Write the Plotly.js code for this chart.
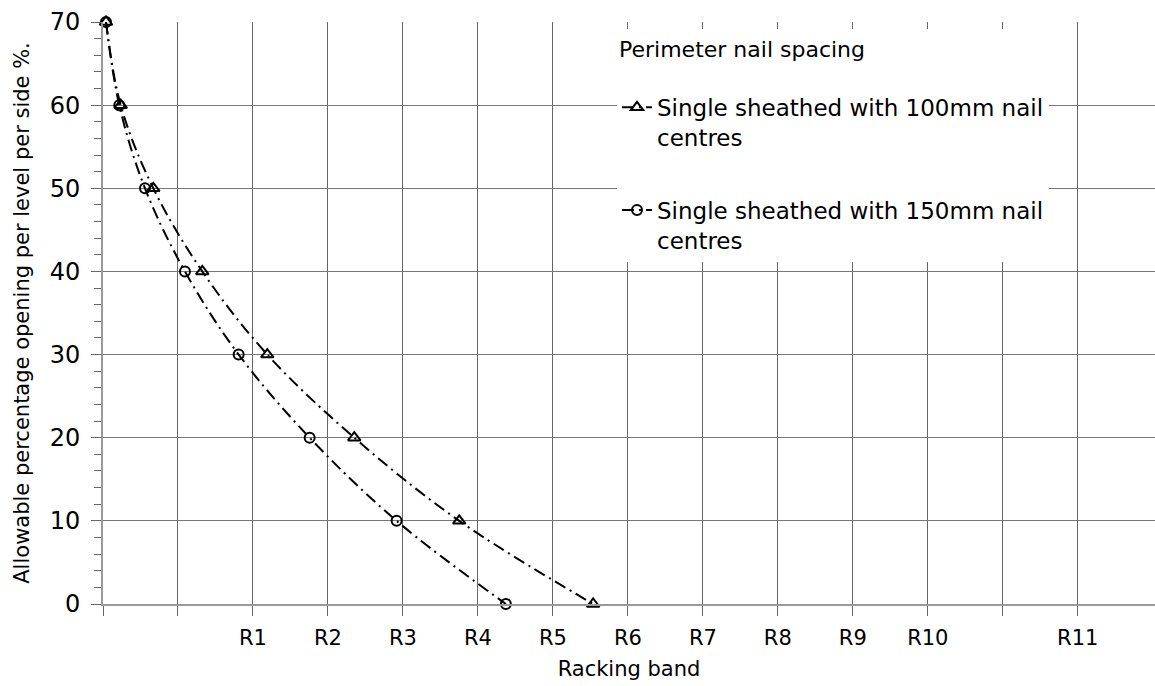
<!DOCTYPE html>
<html>
<head>
<meta charset="utf-8">
<script src="https://cdn.plot.ly/plotly-3.0.1.min.js"></script>
<style>html,body{margin:0;padding:0;background:#fff}#chart{width:1155px;height:686px}</style>
</head>
<body>
<div id="chart"></div>
<script>
// Percentage opening (y) values
const openingPct = [70, 60, 50, 40, 30, 20, 10, 0];
// Racking band position (x, in grid units) for each series
const nail100 = [0.04, 0.236, 0.671, 1.324, 2.191, 3.351, 4.751, 6.537];
const nail150 = [0.04, 0.217, 0.56, 1.093, 1.809, 2.756, 3.916, 5.373];
// x tick positions & labels
const bandTickVals = [0, 1, 2, 3, 4, 5, 6, 7, 8, 9, 10, 11, 12, 13];
const bandTickText = ['', '', 'R1', 'R2', 'R3', 'R4', 'R5', 'R6', 'R7', 'R8', 'R9', 'R10', '', 'R11'];
const seriesNames = ['Single sheathed with 100mm nail<br>centres', 'Single sheathed with 150mm nail<br>centres'];
const legendTitle = 'Perimeter nail spacing';

const FONT = 'DejaVu Sans, sans-serif';
const lineStyle = {color: '#000', width: 2, dash: '12px,5px,2px,5px', shape: 'spline', smoothing: 1};

const traces = [
  {x: nail100, y: openingPct, name: seriesNames[0], legendgroup: 'a', mode: 'lines+markers', line: lineStyle,
   marker: {symbol: 'triangle-up-open', size: 11, color: '#000', line: {width: 2, color: '#000'}}, cliponaxis: false},
  {x: nail150, y: openingPct, name: seriesNames[1], legendgroup: 'b', mode: 'lines+markers', line: lineStyle,
   marker: {symbol: 'circle-open', size: 10, color: '#000', line: {width: 2, color: '#000'}}, cliponaxis: false}
];

const layout = {
  width: 1155, height: 686,
  margin: {l: 103, r: 0, t: 22, b: 82},
  paper_bgcolor: '#fff', plot_bgcolor: '#fff',
  font: {family: FONT, color: '#000'},
  showlegend: true,
  legend: {
    x: 0.4886, y: 0.9886, xanchor: 'left', yanchor: 'top',
    bgcolor: '#fff', borderwidth: 0, valign: 'top',
    font: {family: FONT, size: 23, color: '#000'},
    title: {text: legendTitle + '<br> ', font: {family: FONT, size: 22, color: '#000'}},
    traceorder: 'grouped', tracegroupgap: 40, itemwidth: 30
  },
  xaxis: {
    range: [0, 14.03], tickmode: 'array', tickvals: bandTickVals, ticktext: bandTickText,
    showgrid: true, gridcolor: '#666', gridwidth: 1,
    ticks: 'outside', ticklen: 10, tickcolor: '#666', tickwidth: 1,
    ticklabelstandoff: 4,
    showline: true, linecolor: '#999', linewidth: 2, zeroline: false,
    tickfont: {family: FONT, size: 21, color: '#000'},
    title: {text: 'Racking band', font: {family: FONT, size: 21, color: '#000'}, standoff: 12}
  },
  yaxis: {
    range: [0, 70], tickvals: [0, 10, 20, 30, 40, 50, 60, 70],
    showgrid: true, gridcolor: '#777', gridwidth: 1,
    ticks: 'outside', ticklen: 10, tickcolor: '#666', tickwidth: 1,
    ticklabelstandoff: 6,
    minor: {dtick: 2, ticks: 'outside', ticklen: 7, tickcolor: '#666', showgrid: false},
    showline: true, linecolor: '#999', linewidth: 2, zeroline: false,
    tickfont: {family: FONT, size: 24, color: '#000'},
    title: {text: 'Allowable percentage opening per level per side %.', font: {family: FONT, size: 21, color: '#000'}, standoff: 14}
  }
};

Plotly.newPlot('chart', traces, layout, {displayModeBar: false, staticPlot: true});
</script>
</body>
</html>
